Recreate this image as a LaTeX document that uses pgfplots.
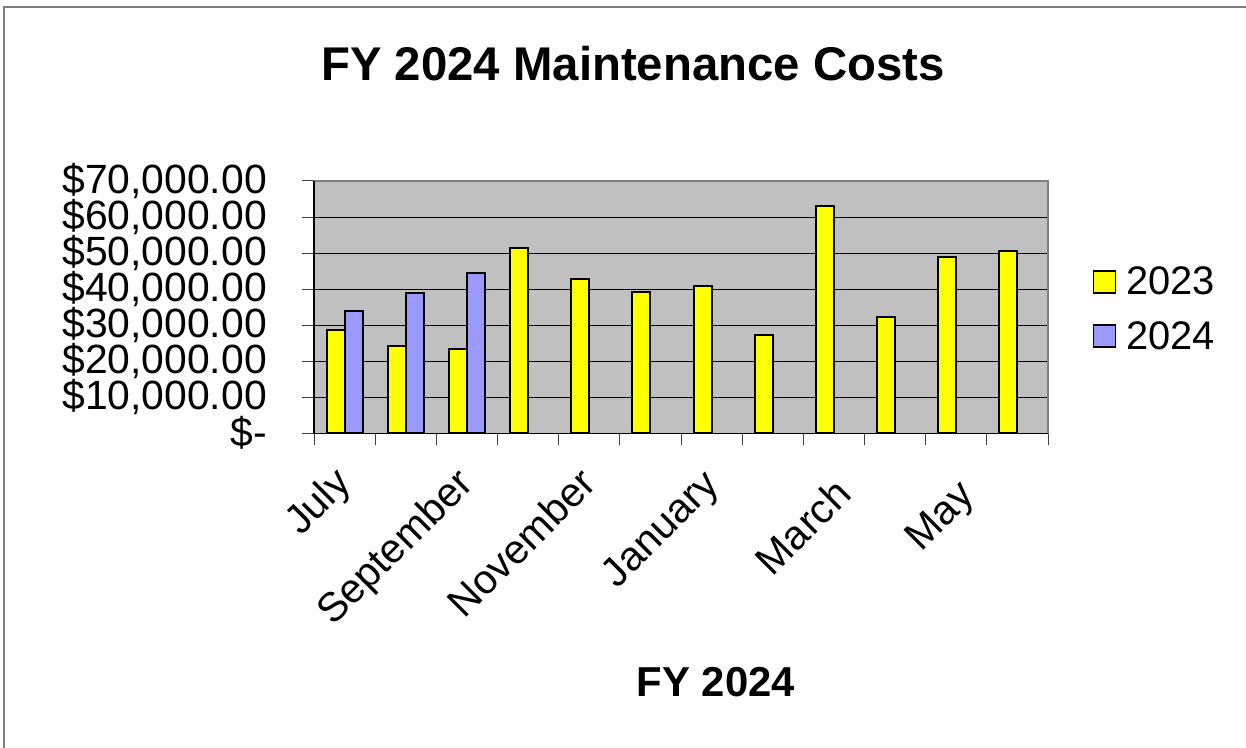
\documentclass[border=0pt]{standalone}
\usepackage{fontspec}
\setmainfont{Liberation Sans}
\usepackage{pgfplots}
\pgfplotsset{compat=1.18}
\definecolor{plotbg}{HTML}{C0C0C0}
\definecolor{bary}{HTML}{FFFF00}
\definecolor{barb}{HTML}{9999FF}
\newcommand{\adj}[3]{\raisebox{#2}[\height][\depth]{#3}\hspace{#1}}
\begin{document}
\begin{tikzpicture}[x=1bp,y=1bp]
\draw[gray, line width=1.5bp] (4,-20) -- (4,741) -- (1270,741);
\node[anchor=base, inner sep=0pt, font=\bfseries\fontsize{47.5}{50}\selectfont] at (633,667) {FY 2024 Maintenance Costs};
\node[anchor=base, inner sep=0pt, font=\bfseries\fontsize{42}{44}\selectfont] at (716,51) {FY 2024};
\begin{axis}[
  at={(314bp,314.7bp)}, anchor=south west,
  scale only axis, width=734bp, height=252.3bp,
  xmin=-0.5, xmax=11.5, ymin=0, ymax=70000,
  ybar=0pt, bar width=18bp,
  clip=false,
  axis background/.style={fill=plotbg},
  axis line style={draw=gray, line width=1.5bp},
  ymajorgrids, grid style={black, line width=1bp},
  tick align=outside, major tick length=12bp,
  xtick pos=left, ytick pos=left,
  tick style={black!75, line width=1bp},
  xtick={-0.5,0.5,1.5,2.5,3.5,4.5,5.5,6.5,7.5,8.5,9.5,10.5,11.5},
  xticklabels={},
  extra x ticks={0,2,4,6,8,10},
  extra x tick labels={July,September,{\adj{2bp}{-1bp}{November}},{\adj{0bp}{-3bp}{January}},{\adj{5bp}{-16bp}{March}},{\adj{13.5bp}{-18.5bp}{May}}},
  extra x tick style={major tick length=0pt,
    tick label style={xshift=-13bp, yshift=-31bp, rotate=45, anchor=north east, inner sep=0pt,
      font=\fontsize{41}{41}\selectfont}},
  scaled y ticks=false,
  ytick={0,10000,20000,30000,40000,50000,60000,70000},
  yticklabels={{\$-\hspace{23bp}},{\$10,000.00},{\$20,000.00},{\$30,000.00},{\$40,000.00},{\$50,000.00},{\$60,000.00},{\$70,000.00}},
  yticklabel style={anchor=east, inner sep=0pt, xshift=-35bp, font=\fontsize{41}{41}\selectfont},
  legend cell align=left,
  legend style={at={(1.061,0.493)}, anchor=west, draw=none, fill=none, inner sep=0pt,
    row sep=25bp, column sep=10bp, font=\fontsize{40}{40}\selectfont, nodes={inner sep=0pt}},
  legend image code/.code={\draw[#1, draw=black, line width=1.5bp] (0bp,-11bp) rectangle (22bp,11bp);},
]
\addplot[fill=bary, draw=black, line width=2bp] coordinates {
(0,28700) (1,24100) (2,23300) (3,51300) (4,42700) (5,39300)
(6,41000) (7,27300) (8,63100) (9,32200) (10,49000) (11,50600)};
\addplot[fill=barb, draw=black, line width=2bp] coordinates {
(0,33900) (1,38900) (2,44500)};
\legend{2023,2024}
\draw[black, line width=1.5bp] (rel axis cs:0,1) -- (rel axis cs:0,0) -- (rel axis cs:1,0);
\end{axis}
\pgfresetboundingbox
\useasboundingbox (0,0) rectangle (1246,748);
\end{tikzpicture}
\end{document}
